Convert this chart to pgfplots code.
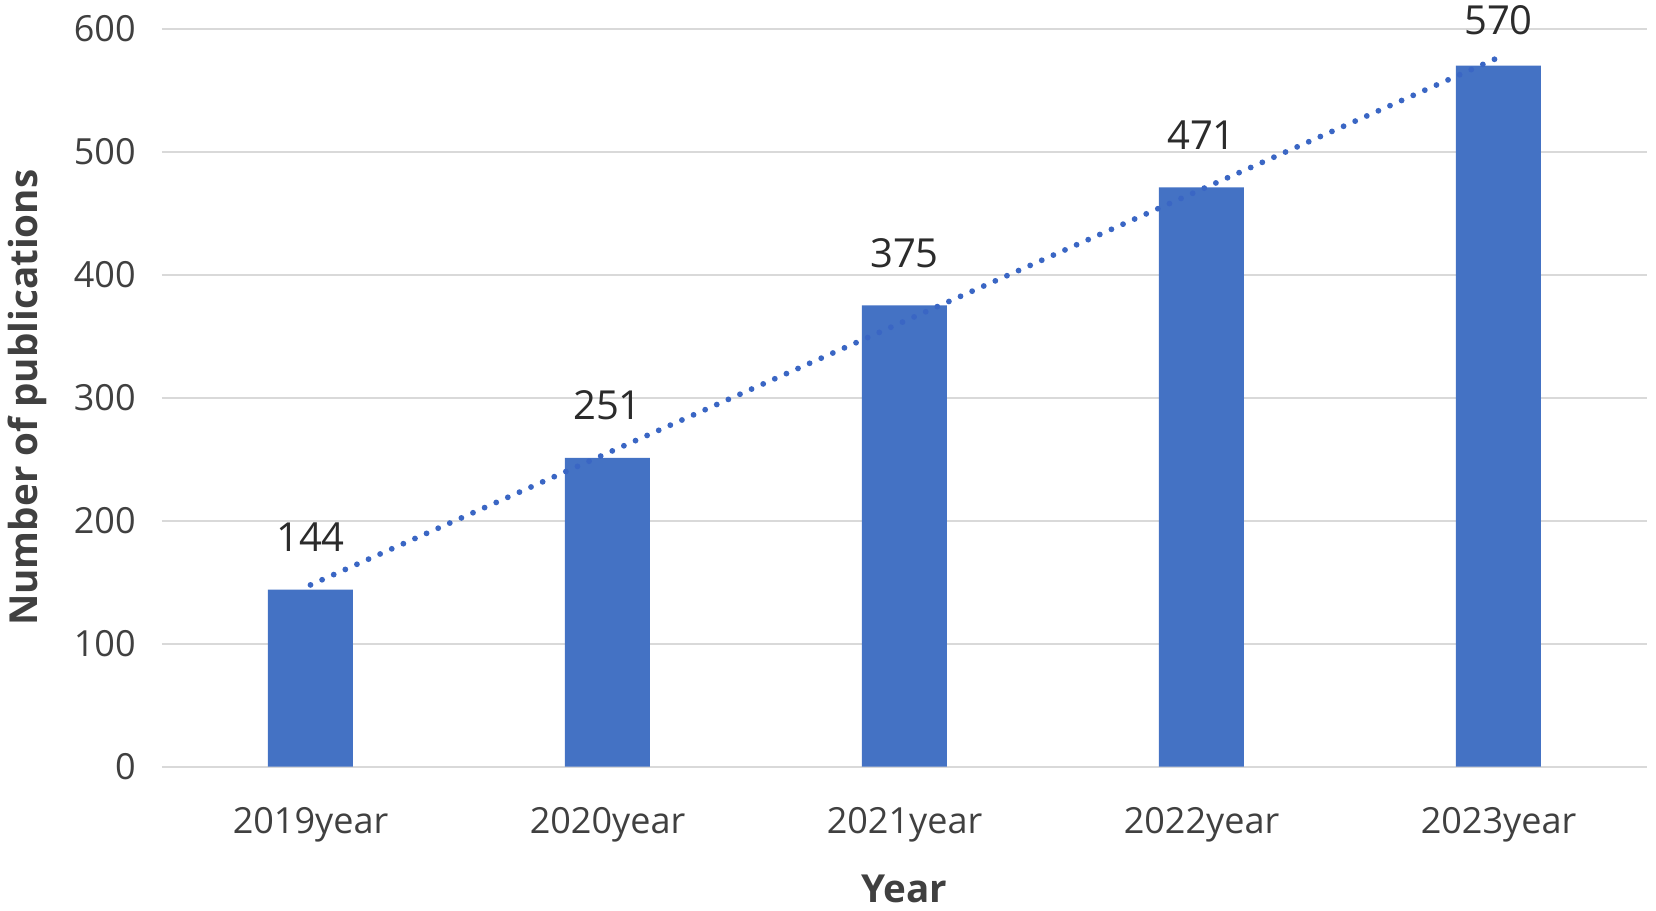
\documentclass[border=0pt]{standalone}
\usepackage{fontspec}
\setmainfont{Open Sans}
\usepackage{pgfplots}
\pgfplotsset{compat=1.18}
\definecolor{barblue}{HTML}{4472C4}
\definecolor{trendblue}{HTML}{3A66C4}
\definecolor{gridgray}{HTML}{D9D9D9}
\definecolor{txt}{HTML}{404040}
\definecolor{lbl}{HTML}{2B2B2B}
\begin{document}
\begin{tikzpicture}
\path[use as bounding box] (0,0) rectangle (828pt,455.5pt);
\begin{axis}[
 at={(81pt,72.15pt)}, anchor=south west,
 scale only axis, width=742.5pt, height=369pt,
 xmin=-0.5, xmax=4.5, ymin=0, ymax=600,
 xtick={0,...,4}, xticklabels={2019year,2020year,2021year,2022year,2023year},
 ytick={0,100,...,600},
 major tick length=0pt,
 axis line style={draw=none},
 ymajorgrids, grid style={gridgray, line width=1pt},
 /pgf/number format/assume math mode=true,
 tick label style={font=\fontsize{18}{20}\selectfont, text=txt, inner sep=0pt},
 yticklabel style={xshift=-13pt},
 xticklabel style={anchor=north, yshift=-20pt},
 ylabel={Number of publications}, xlabel={Year},
 label style={font=\bfseries\fontsize{19.3}{22}\selectfont, text=txt},
 ylabel style={at={(axis description cs:-0.0909,0.5)}, anchor=center},
 xlabel style={at={(axis description cs:0.5,-0.1653)}, anchor=center},
 clip=false,
]
\addplot[ybar, bar width=42.5pt, fill=barblue, draw=none] coordinates {(0,144) (1,251) (2,375) (3,471) (4,570)};
\addplot[draw=none, mark=none, nodes near coords,
  nodes near coords style={anchor=south, inner sep=0pt, yshift=18.75pt, font=\fontsize{20}{22}\selectfont, text=lbl}]
  coordinates {(0,144) (1,251) (2,375) (3,471)};
\addplot[draw=none, mark=none, nodes near coords,
  nodes near coords style={anchor=south, inner sep=0pt, yshift=15.3pt, font=\fontsize{20}{22}\selectfont, text=lbl}]
  coordinates {(4,570)};
\addplot[trendblue, line width=2.9pt, line cap=round, dash pattern=on 0pt off 6.35pt] coordinates {(0,147.8) (4,576.6)};
\end{axis}
\end{tikzpicture}
\end{document}
